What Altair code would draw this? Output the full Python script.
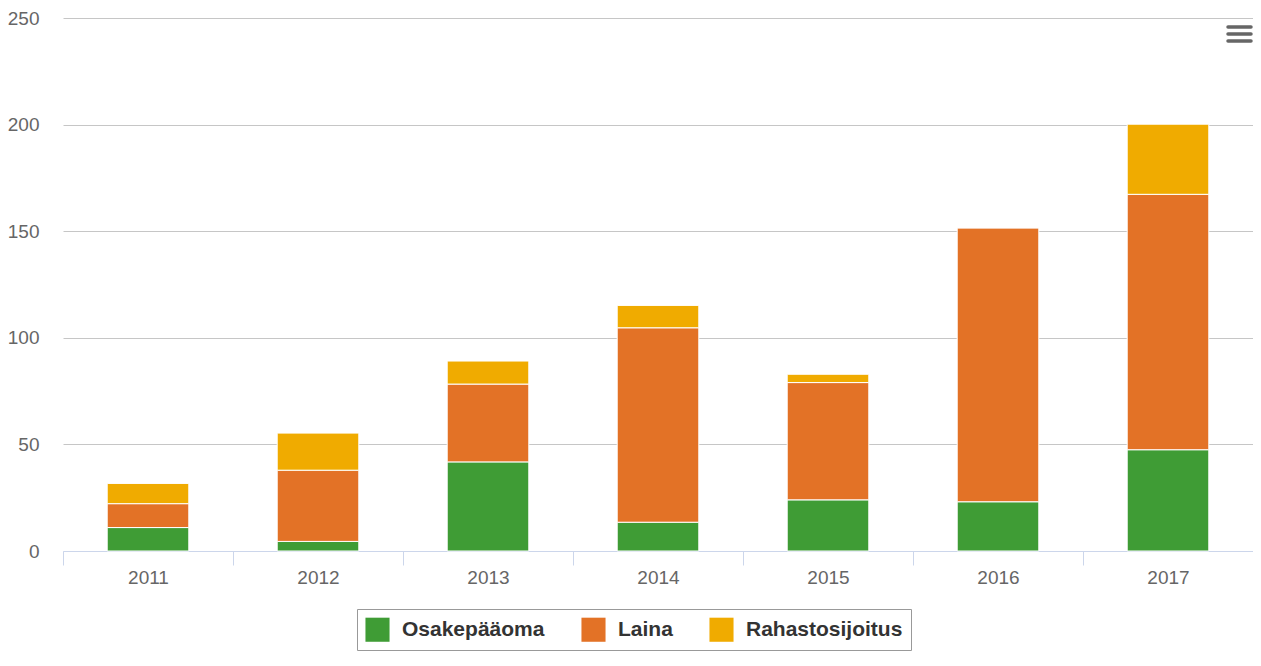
import altair as alt
import pandas as pd

years = ["2011", "2012", "2013", "2014", "2015", "2016", "2017"]
series = ["Osakepääoma", "Laina", "Rahastosijoitus"]
colors = ["#3f9c35", "#e37226", "#f0ab00"]
osakepaaoma = [11.0, 4.5, 41.8, 13.5, 24.0, 23.1, 47.5]
laina = [11.2, 33.4, 36.5, 91.2, 55.0, 128.5, 119.8]
rahastosijoitus = [9.5, 17.4, 10.8, 10.5, 3.9, 0.0, 32.9]
y_ticks = [0, 50, 100, 150, 200, 250]

rows = []
for i, s in enumerate(series):
    vals = [osakepaaoma, laina, rahastosijoitus][i]
    for y, v in zip(years, vals):
        rows.append({"year": y, "series": s, "value": v, "ord": i})
df = pd.DataFrame(rows)

FONT = "Liberation Sans"

bars = alt.Chart(df).mark_bar(stroke="white", strokeWidth=1,
                              width=alt.RelativeBandSize(0.48)).encode(
    x=alt.X("year:N", title=None, sort=years,
            scale=alt.Scale(paddingInner=0, paddingOuter=0),
            axis=alt.Axis(labelAngle=0, labelFontSize=19, labelColor="#666666",
                          labelFont=FONT, domainColor="#ccd6eb", tickColor="#ccd6eb",
                          tickSize=14, tickBand="extent", labelPadding=3, grid=False)),
    y=alt.Y("value:Q", title=None, stack="zero",
            scale=alt.Scale(domain=[0, 250], nice=False),
            axis=alt.Axis(values=y_ticks, labelFontSize=19, labelColor="#666666",
                          labelFont=FONT, ticks=False, domain=False, labelPadding=24,
                          gridColor=alt.condition(alt.datum.value == 0,
                                                  alt.value("#ccd6eb"),
                                                  alt.value("#c6c6c6")),
                          gridWidth=1)),
    color=alt.Color("series:N", sort=series,
                    scale=alt.Scale(domain=series, range=colors),
                    legend=alt.Legend(title=None, orient="none", legendX=294, legendY=591,
                                      direction="horizontal", symbolType="square",
                                      symbolSize=580, symbolStrokeWidth=0,
                                      labelFontSize=21, labelFontWeight="bold",
                                      labelColor="#333333", labelFont=FONT,
                                      strokeColor="#999999", padding=8,
                                      columnPadding=36, labelOffset=12)),
    order=alt.Order("ord:Q", sort="ascending"),
)

menu = alt.Chart(pd.DataFrame({"k": [9, 16, 23]})).mark_rule(
    color="#666666", strokeWidth=3.5, strokeCap="round").encode(
    x=alt.value(1165), x2=alt.value(1188), y=alt.Y("k:Q", scale=None)
)

chart = alt.layer(bars, menu).properties(
    width=1190, height=533,
    autosize=alt.AutoSizeParams(type="none"),
    padding={"left": 55, "top": 10, "right": 0, "bottom": 102},
).configure(font=FONT, view={"stroke": None})

chart.save("out.html", embed_options={"renderer": "svg", "actions": False})
